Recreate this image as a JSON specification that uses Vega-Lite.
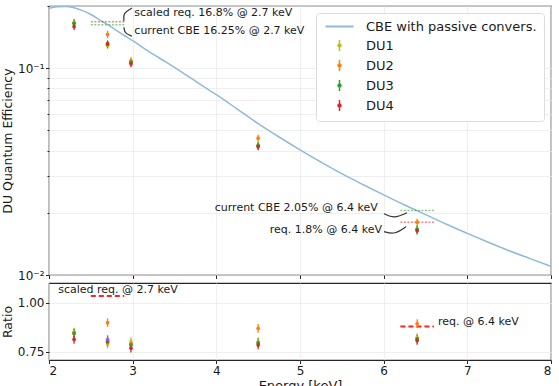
{
  "$schema": "https://vega.github.io/schema/vega-lite/v6.json",
  "background": "white",
  "padding": {"left": 0, "top": 2, "right": 4, "bottom": 0},
  "spacing": 8,
  "bounds": "flush",
  "config": {
    "font": "DejaVu Sans",
    "view": {"stroke": "#262626", "strokeWidth": 1.2},
    "axis": {"domain": false, "grid": true, "gridColor": "#ebebeb", "gridWidth": 0.8, "tickColor": "#262626", "tickSize": 3.5, "labelFont": "DejaVu Sans", "labelFontSize": 12, "labelColor": "#1a1a1a", "titleFont": "DejaVu Sans", "titleFontSize": 12.5, "titleFontWeight": "normal", "titleColor": "#1a1a1a", "labelPadding": 1.5}
  },
  "resolve": {"scale": {"color": "shared", "stroke": "shared"}},
  "datasets": {
    "curve": [
      {"E": 2.0, "qe": 0.195, "series": "CBE with passive convers."},
      {"E": 2.1, "qe": 0.1985, "series": "CBE with passive convers."},
      {"E": 2.2, "qe": 0.199, "series": "CBE with passive convers."},
      {"E": 2.3, "qe": 0.196, "series": "CBE with passive convers."},
      {"E": 2.4, "qe": 0.19, "series": "CBE with passive convers."},
      {"E": 2.5, "qe": 0.182, "series": "CBE with passive convers."},
      {"E": 2.6, "qe": 0.172, "series": "CBE with passive convers."},
      {"E": 2.7, "qe": 0.1625, "series": "CBE with passive convers."},
      {"E": 2.8, "qe": 0.153, "series": "CBE with passive convers."},
      {"E": 2.9, "qe": 0.144, "series": "CBE with passive convers."},
      {"E": 3.0, "qe": 0.136, "series": "CBE with passive convers."},
      {"E": 3.2, "qe": 0.12, "series": "CBE with passive convers."},
      {"E": 3.4, "qe": 0.107, "series": "CBE with passive convers."},
      {"E": 3.6, "qe": 0.095, "series": "CBE with passive convers."},
      {"E": 3.8, "qe": 0.084, "series": "CBE with passive convers."},
      {"E": 4.0, "qe": 0.0745, "series": "CBE with passive convers."},
      {"E": 4.25, "qe": 0.0635, "series": "CBE with passive convers."},
      {"E": 4.5, "qe": 0.054, "series": "CBE with passive convers."},
      {"E": 4.75, "qe": 0.0465, "series": "CBE with passive convers."},
      {"E": 5.0, "qe": 0.0403, "series": "CBE with passive convers."},
      {"E": 5.25, "qe": 0.0352, "series": "CBE with passive convers."},
      {"E": 5.5, "qe": 0.0309, "series": "CBE with passive convers."},
      {"E": 5.75, "qe": 0.0274, "series": "CBE with passive convers."},
      {"E": 6.0, "qe": 0.0244, "series": "CBE with passive convers."},
      {"E": 6.25, "qe": 0.0218, "series": "CBE with passive convers."},
      {"E": 6.5, "qe": 0.0196, "series": "CBE with passive convers."},
      {"E": 6.75, "qe": 0.0176, "series": "CBE with passive convers."},
      {"E": 7.0, "qe": 0.0159, "series": "CBE with passive convers."},
      {"E": 7.25, "qe": 0.0144, "series": "CBE with passive convers."},
      {"E": 7.5, "qe": 0.0131, "series": "CBE with passive convers."},
      {"E": 7.75, "qe": 0.012, "series": "CBE with passive convers."},
      {"E": 8.0, "qe": 0.011, "series": "CBE with passive convers."}
    ],
    "du": [
      {"E": 2.3, "series": "DU1", "qe": 0.166, "lo": 0.159, "hi": 0.173},
      {"E": 2.3, "series": "DU2", "qe": 0.165, "lo": 0.158, "hi": 0.172},
      {"E": 2.3, "series": "DU3", "qe": 0.165, "lo": 0.158, "hi": 0.172},
      {"E": 2.3, "series": "DU4", "qe": 0.159, "lo": 0.153, "hi": 0.166},
      {"E": 2.7, "series": "DU1", "qe": 0.129, "lo": 0.124, "hi": 0.134},
      {"E": 2.7, "series": "DU2", "qe": 0.146, "lo": 0.14, "hi": 0.152},
      {"E": 2.7, "series": "DU3", "qe": 0.131, "lo": 0.126, "hi": 0.136},
      {"E": 2.7, "series": "DU4", "qe": 0.131, "lo": 0.126, "hi": 0.136},
      {"E": 2.98, "series": "DU1", "qe": 0.109, "lo": 0.105, "hi": 0.113},
      {"E": 2.98, "series": "DU2", "qe": 0.108, "lo": 0.104, "hi": 0.112},
      {"E": 2.98, "series": "DU3", "qe": 0.107, "lo": 0.103, "hi": 0.111},
      {"E": 2.98, "series": "DU4", "qe": 0.105, "lo": 0.101, "hi": 0.109},
      {"E": 4.5, "series": "DU1", "qe": 0.0424, "lo": 0.0407, "hi": 0.0441},
      {"E": 4.5, "series": "DU2", "qe": 0.0459, "lo": 0.0441, "hi": 0.0477},
      {"E": 4.5, "series": "DU3", "qe": 0.0422, "lo": 0.0405, "hi": 0.0439},
      {"E": 4.5, "series": "DU4", "qe": 0.0418, "lo": 0.0401, "hi": 0.0435},
      {"E": 6.4, "series": "DU1", "qe": 0.0167, "lo": 0.016, "hi": 0.0174},
      {"E": 6.4, "series": "DU2", "qe": 0.018, "lo": 0.0173, "hi": 0.0187},
      {"E": 6.4, "series": "DU3", "qe": 0.0166, "lo": 0.0159, "hi": 0.0173},
      {"E": 6.4, "series": "DU4", "qe": 0.0164, "lo": 0.0157, "hi": 0.0171}
    ],
    "ratio": [
      {"E": 2.3, "series": "DU1", "r": 0.85, "lo": 0.828, "hi": 0.872},
      {"E": 2.3, "series": "DU2", "r": 0.842, "lo": 0.82, "hi": 0.864},
      {"E": 2.3, "series": "DU3", "r": 0.845, "lo": 0.823, "hi": 0.867},
      {"E": 2.3, "series": "DU4", "r": 0.813, "lo": 0.791, "hi": 0.835},
      {"E": 2.7, "series": "DU1", "r": 0.79, "lo": 0.768, "hi": 0.812},
      {"E": 2.7, "series": "DU2", "r": 0.898, "lo": 0.876, "hi": 0.92},
      {"E": 2.7, "series": "DU3", "r": 0.8, "lo": 0.778, "hi": 0.822},
      {"E": 2.7, "series": "DU4", "r": 0.805, "lo": 0.783, "hi": 0.827},
      {"E": 2.7, "series": "other", "r": 0.812, "lo": 0.79, "hi": 0.834},
      {"E": 2.98, "series": "DU1", "r": 0.8, "lo": 0.778, "hi": 0.822},
      {"E": 2.98, "series": "DU2", "r": 0.79, "lo": 0.768, "hi": 0.812},
      {"E": 2.98, "series": "DU3", "r": 0.785, "lo": 0.763, "hi": 0.807},
      {"E": 2.98, "series": "DU4", "r": 0.768, "lo": 0.746, "hi": 0.79},
      {"E": 4.5, "series": "DU1", "r": 0.8, "lo": 0.778, "hi": 0.822},
      {"E": 4.5, "series": "DU2", "r": 0.869, "lo": 0.847, "hi": 0.891},
      {"E": 4.5, "series": "DU3", "r": 0.795, "lo": 0.773, "hi": 0.817},
      {"E": 4.5, "series": "DU4", "r": 0.785, "lo": 0.763, "hi": 0.807},
      {"E": 6.4, "series": "DU1", "r": 0.822, "lo": 0.8, "hi": 0.844},
      {"E": 6.4, "series": "DU2", "r": 0.893, "lo": 0.871, "hi": 0.915},
      {"E": 6.4, "series": "DU3", "r": 0.815, "lo": 0.793, "hi": 0.837},
      {"E": 6.4, "series": "DU4", "r": 0.808, "lo": 0.786, "hi": 0.83}
    ],
    "refs": [
      {"E1": 2.5, "E2": 2.9, "v": 0.168, "kind": "req"},
      {"E1": 2.5, "E2": 2.9, "v": 0.1625, "kind": "cbe"},
      {"E1": 6.2, "E2": 6.6, "v": 0.0205, "kind": "cbe"},
      {"E1": 6.2, "E2": 6.6, "v": 0.018, "kind": "req"}
    ],
    "ratioRefs": [
      {"E1": 2.5, "E2": 2.9, "r": 1.034},
      {"E1": 6.2, "E2": 6.6, "r": 0.878}
    ],
    "labelsLeft": [
      {"E": 3.02, "v": 0.186, "text": "scaled req. 16.8% @ 2.7 keV"},
      {"E": 3.02, "v": 0.151, "text": "current CBE 16.25% @ 2.7 keV"}
    ],
    "labelsRight": [
      {"E": 5.93, "v": 0.0211, "text": "current CBE 2.05% @ 6.4 keV"},
      {"E": 5.98, "v": 0.0165, "text": "req. 1.8% @ 6.4 keV"}
    ],
    "ratioLabels": [
      {"E": 2.11, "r": 1.065, "text": "scaled req. @ 2.7 keV"},
      {"E": 6.65, "r": 0.9, "text": "req. @ 6.4 keV"}
    ],
    "arrows": [
      {"id": "a", "i": 0, "E": 2.992, "v": 0.1954},
      {"id": "a", "i": 1, "E": 2.884, "v": 0.1849},
      {"id": "a", "i": 2, "E": 2.896, "v": 0.169},
      {"id": "b", "i": 0, "E": 2.896, "v": 0.158},
      {"id": "b", "i": 1, "E": 2.9, "v": 0.148},
      {"id": "b", "i": 2, "E": 2.992, "v": 0.1429},
      {"id": "c", "i": 0, "E": 6.004, "v": 0.0198},
      {"id": "c", "i": 1, "E": 6.123, "v": 0.0187},
      {"id": "c", "i": 2, "E": 6.279, "v": 0.02},
      {"id": "d", "i": 0, "E": 6.004, "v": 0.0162},
      {"id": "d", "i": 1, "E": 6.135, "v": 0.0157},
      {"id": "d", "i": 2, "E": 6.267, "v": 0.0171}
    ]
  },
  "vconcat": [
    {
      "width": 502,
      "height": 269,
      "layer": [
        {
          "data": {"name": "curve"},
          "mark": {"type": "line", "strokeWidth": 1.5, "interpolate": "monotone"},
          "encoding": {
            "x": {"field": "E", "type": "quantitative", "scale": {"domain": [2, 8], "nice": false}, "axis": {"values": [2, 3, 4, 5, 6, 7, 8], "labels": false, "title": null}},
            "y": {"field": "qe", "type": "quantitative", "scale": {"type": "log", "domain": [0.01, 0.2], "nice": false}, "axis": {"title": "DU Quantum Efficiency", "titlePadding": 3, "values": [0.01, 0.02, 0.03, 0.04, 0.05, 0.06, 0.07, 0.08, 0.09, 0.1, 0.2], "labelExpr": "datum.value == 0.1 ? '10⁻¹' : (datum.value == 0.01 ? '10⁻²' : '')", "tickSize": {"condition": {"test": "datum.value == 0.1 || datum.value == 0.01", "value": 3.5}, "value": 2}}},
            "color": {
              "field": "series", "type": "nominal",
              "scale": {"domain": ["CBE with passive convers.", "DU1", "DU2", "DU3", "DU4", "other"], "range": ["#8fbbd9", "#bcbd22", "#ff7f0e", "#2ca02c", "#d62728", "#9467bd"]},
              "legend": {
                "values": ["CBE with passive convers.", "DU1", "DU2", "DU3", "DU4"],
                "title": null, "orient": "top-right", "offset": 7,
                "labelFont": "DejaVu Sans", "labelFontSize": 13, "labelColor": "#1a1a1a", "labelLimit": 400,
                "padding": 7, "rowPadding": 3, "strokeColor": "#dcdcdc", "fillColor": "white", "cornerRadius": 3,
                "symbolSize": 100, "symbolOffset": 10, "labelOffset": 20, "symbolStrokeWidth": 1.6,
                "encode": {"symbols": {"update": {
                  "shape": {"signal": "datum.value === 'CBE with passive convers.' ? 'M-2.8,0H2.8' : 'M0,-1.1V1.1M-0.3,0a0.3,0.3 0 1,0 0.6,0a0.3,0.3 0 1,0 -0.6,0'"},
                  "stroke": {"signal": "scale('color', datum.value)"},
                  "fill": {"value": "transparent"},
                  "strokeWidth": {"signal": "datum.value === 'CBE with passive convers.' ? 2 : 1.5"}
                }}}
              }
            }
          }
        },
        {
          "data": {"name": "refs"},
          "mark": {"type": "rule", "strokeWidth": 1.5, "strokeDash": [2, 1.5], "opacity": 0.55},
          "encoding": {
            "x": {"field": "E1", "type": "quantitative"},
            "x2": {"field": "E2"},
            "y": {"field": "v", "type": "quantitative"},
            "stroke": {"field": "kind", "type": "nominal", "scale": {"domain": ["req", "cbe"], "range": ["#d62728", "#2ca02c"]}, "legend": null}
          }
        },
        {
          "data": {"name": "du"},
          "mark": {"type": "rule", "strokeWidth": 1.3},
          "encoding": {
            "x": {"field": "E", "type": "quantitative"},
            "y": {"field": "lo", "type": "quantitative"},
            "y2": {"field": "hi"},
            "color": {"field": "series", "type": "nominal"}
          }
        },
        {
          "data": {"name": "du"},
          "mark": {"type": "point", "filled": true, "size": 14, "opacity": 1},
          "encoding": {
            "x": {"field": "E", "type": "quantitative"},
            "y": {"field": "qe", "type": "quantitative"},
            "color": {"field": "series", "type": "nominal"}
          }
        },
        {
          "data": {"name": "arrows"},
          "mark": {"type": "line", "interpolate": "basis", "color": "#333333", "strokeWidth": 1.2},
          "encoding": {
            "x": {"field": "E", "type": "quantitative"},
            "y": {"field": "v", "type": "quantitative"},
            "detail": {"field": "id"},
            "order": {"field": "i"}
          }
        },
        {
          "data": {"name": "labelsLeft"},
          "mark": {"type": "text", "align": "left", "baseline": "middle", "fontSize": 11, "color": "#1a1a1a"},
          "encoding": {
            "x": {"field": "E", "type": "quantitative"},
            "y": {"field": "v", "type": "quantitative"},
            "text": {"field": "text"}
          }
        },
        {
          "data": {"name": "labelsRight"},
          "mark": {"type": "text", "align": "right", "baseline": "middle", "fontSize": 11, "color": "#1a1a1a"},
          "encoding": {
            "x": {"field": "E", "type": "quantitative"},
            "y": {"field": "v", "type": "quantitative"},
            "text": {"field": "text"}
          }
        }
      ]
    },
    {
      "width": 502,
      "height": 77,
      "layer": [
        {
          "data": {"name": "ratioRefs"},
          "mark": {"type": "rule", "color": "#ff2020", "strokeWidth": 2, "strokeDash": [5, 3]},
          "encoding": {
            "x": {"field": "E1", "type": "quantitative", "scale": {"domain": [2, 8], "nice": false}, "axis": {"values": [2, 3, 4, 5, 6, 7, 8], "format": "d", "title": "Energy [keV]", "titleFontSize": 13, "titlePadding": 3}},
            "x2": {"field": "E2"},
            "y": {"field": "r", "type": "quantitative", "scale": {"domain": [0.708, 1.1], "nice": false, "zero": false}, "axis": {"values": [0.75, 1.0], "format": ".2f", "title": "Ratio", "titlePadding": 3}}
          }
        },
        {
          "mark": {"type": "rule", "color": "#8fbbd9", "strokeWidth": 1.5},
          "encoding": {"y": {"datum": 1}}
        },
        {
          "data": {"name": "ratio"},
          "mark": {"type": "rule", "strokeWidth": 1.3},
          "encoding": {
            "x": {"field": "E", "type": "quantitative"},
            "y": {"field": "lo", "type": "quantitative"},
            "y2": {"field": "hi"},
            "color": {"field": "series", "type": "nominal"}
          }
        },
        {
          "data": {"name": "ratio"},
          "mark": {"type": "point", "filled": true, "size": 14, "opacity": 1},
          "encoding": {
            "x": {"field": "E", "type": "quantitative"},
            "y": {"field": "r", "type": "quantitative"},
            "color": {"field": "series", "type": "nominal"}
          }
        },
        {
          "data": {"name": "ratioLabels"},
          "mark": {"type": "text", "align": "left", "baseline": "middle", "fontSize": 11, "color": "#1a1a1a"},
          "encoding": {
            "x": {"field": "E", "type": "quantitative"},
            "y": {"field": "r", "type": "quantitative"},
            "text": {"field": "text"}
          }
        }
      ]
    }
  ]
}
